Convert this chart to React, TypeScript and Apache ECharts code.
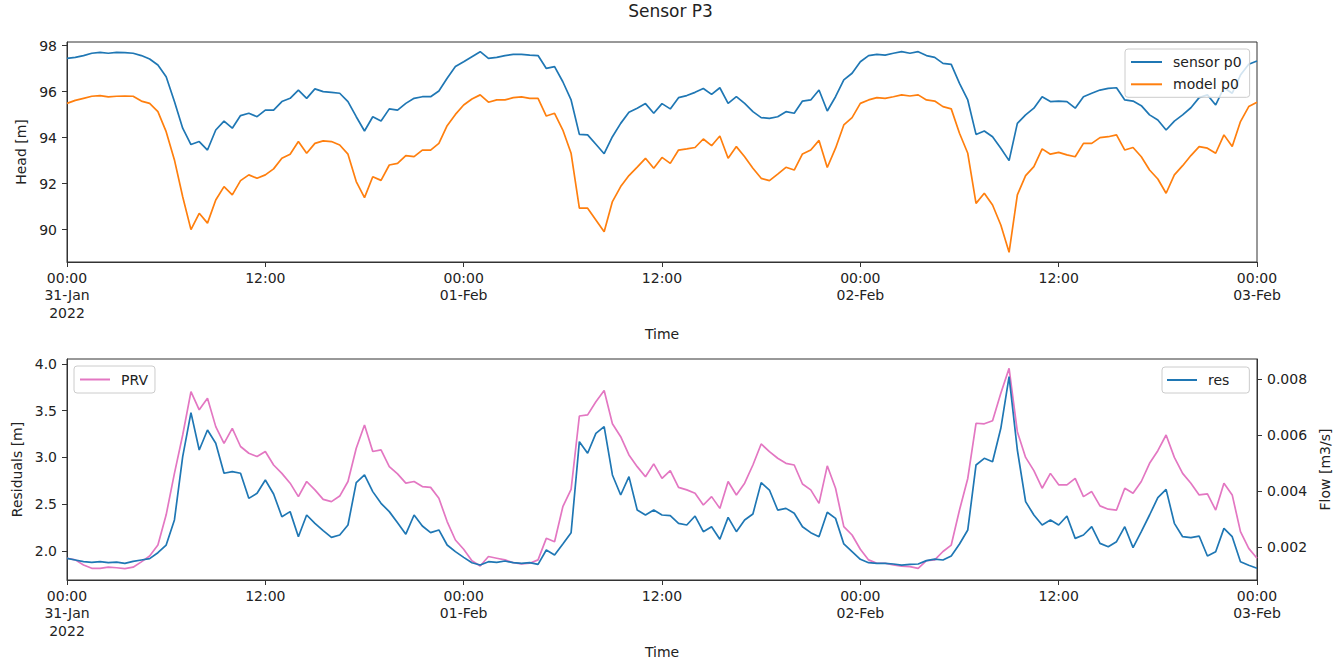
import { useEffect, useRef } from "react";
import * as echarts from "echarts";

// Half-hourly samples from 31-Jan-2022 00:00 to 03-Feb-2022 00:00 (UTC)
const START = Date.UTC(2022, 0, 31);
const STEP = 30 * 60 * 1000;
const HALF_DAY = 12 * 3600 * 1000;
const END = START + 6 * HALF_DAY;

// Pressure head at P3 [m]
const sensorP0 = [
  97.45, 97.49, 97.57, 97.67, 97.71, 97.67, 97.71, 97.70, 97.67, 97.57,
  97.42, 97.16, 96.65, 95.57, 94.41, 93.70, 93.83, 93.46, 94.33, 94.72,
  94.41, 94.96, 95.06, 94.91, 95.20, 95.20, 95.57, 95.71, 96.07, 95.71,
  96.12, 96.00, 95.97, 95.93, 95.57, 94.91, 94.29, 94.91, 94.72, 95.25,
  95.20, 95.49, 95.71, 95.78, 95.78, 96.03, 96.58, 97.09, 97.30, 97.52,
  97.74, 97.45, 97.49, 97.57, 97.62, 97.62, 97.59, 97.57, 97.01, 97.09,
  96.43, 95.64, 94.14, 94.12, 93.71, 93.30, 94.04, 94.62, 95.10, 95.28,
  95.48, 95.06, 95.48, 95.25, 95.74, 95.83, 95.97, 96.14, 95.88, 96.17,
  95.49, 95.78, 95.49, 95.13, 94.87, 94.84, 94.91, 95.13, 95.06, 95.59,
  95.64, 96.07, 95.16, 95.78, 96.51, 96.80, 97.30, 97.57, 97.62, 97.59,
  97.67, 97.74, 97.67, 97.74, 97.57, 97.49, 97.23, 97.19, 96.36, 95.64,
  94.14, 94.29, 94.04, 93.54, 93.00, 94.62, 94.99, 95.28, 95.78, 95.57,
  95.59, 95.57, 95.28, 95.78, 95.93, 96.07, 96.14, 96.17, 95.64, 95.59,
  95.39, 94.99, 94.77, 94.33, 94.72, 94.99, 95.30, 95.74, 95.86, 95.42,
  96.17, 95.93, 96.72, 97.19, 97.33,
];

const modelP0 = [
  95.49, 95.62, 95.71, 95.80, 95.83, 95.77, 95.80, 95.81, 95.80, 95.59,
  95.49, 95.13, 94.26, 93.03, 91.43, 90.00, 90.71, 90.28, 91.29, 91.87,
  91.51, 92.13, 92.38, 92.23, 92.38, 92.64, 93.10, 93.28, 93.83, 93.32,
  93.75, 93.86, 93.83, 93.68, 93.28, 92.09, 91.39, 92.30, 92.14, 92.81,
  92.88, 93.22, 93.17, 93.46, 93.46, 93.75, 94.52, 95.01, 95.42, 95.68,
  95.86, 95.54, 95.64, 95.64, 95.74, 95.77, 95.71, 95.71, 94.94, 95.06,
  94.33, 93.32, 90.93, 90.93, 90.42, 89.91, 91.22, 91.87, 92.35, 92.72,
  93.10, 92.67, 93.14, 92.88, 93.46, 93.51, 93.57, 93.94, 93.65, 94.07,
  93.10, 93.61, 93.17, 92.67, 92.23, 92.13, 92.41, 92.71, 92.59, 93.29,
  93.46, 93.88, 92.70, 93.54, 94.55, 94.87, 95.49, 95.64, 95.74, 95.71,
  95.78, 95.86, 95.81, 95.86, 95.64, 95.59, 95.35, 95.25, 94.19, 93.32,
  91.14, 91.58, 91.07, 90.20, 89.01, 91.51, 92.35, 92.74, 93.51, 93.28,
  93.36, 93.25, 93.17, 93.75, 93.75, 94.00, 94.04, 94.12, 93.46, 93.57,
  93.17, 92.59, 92.20, 91.58, 92.38, 92.78, 93.22, 93.61, 93.54, 93.32,
  94.12, 93.61, 94.70, 95.35, 95.54,
];

// Residuals [m]
const residuals = [
  1.922, 1.904, 1.886, 1.879, 1.886, 1.875, 1.882, 1.868, 1.889, 1.904,
  1.918, 1.982, 2.064, 2.332, 3.009, 3.479, 3.080, 3.294, 3.152, 2.831,
  2.849, 2.831, 2.563, 2.617, 2.759, 2.610, 2.367, 2.421, 2.153, 2.385,
  2.296, 2.218, 2.146, 2.171, 2.278, 2.731, 2.813, 2.635, 2.510, 2.421,
  2.303, 2.180, 2.385, 2.267, 2.196, 2.225, 2.064, 1.993, 1.932, 1.875,
  1.850, 1.886, 1.879, 1.893, 1.875, 1.868, 1.875, 1.857, 2.011, 1.957,
  2.075, 2.196, 3.169, 3.045, 3.258, 3.330, 2.813, 2.599, 2.795, 2.438,
  2.385, 2.438, 2.385, 2.378, 2.296, 2.278, 2.374, 2.207, 2.260, 2.125,
  2.360, 2.207, 2.332, 2.396, 2.731, 2.652, 2.438, 2.456, 2.403, 2.260,
  2.196, 2.153, 2.414, 2.349, 2.075, 1.993, 1.911, 1.875, 1.868, 1.868,
  1.861, 1.850, 1.857, 1.861, 1.897, 1.914, 1.904, 1.947, 2.075, 2.225,
  2.920, 2.991, 2.955, 3.312, 3.865, 3.080, 2.528, 2.385, 2.278, 2.332,
  2.278, 2.374, 2.135, 2.171, 2.260, 2.082, 2.046, 2.100, 2.260, 2.036,
  2.207, 2.385, 2.570, 2.659, 2.296, 2.153, 2.143, 2.160, 1.947, 1.993,
  2.242, 2.153, 1.886, 1.847, 1.815,
];

// Flow through the PRV [m3/s]
const prvFlow = [
  0.00161, 0.00155, 0.00137, 0.00125, 0.00125, 0.00129, 0.00127, 0.00124, 0.00129, 0.00148,
  0.00169, 0.00208, 0.00316, 0.00464, 0.00601, 0.00756, 0.00691, 0.00732, 0.00631, 0.00571,
  0.00625, 0.0056, 0.00536, 0.00524, 0.00542, 0.00494, 0.00464, 0.00429, 0.00381, 0.00435,
  0.00405, 0.00371, 0.00363, 0.00383, 0.00435, 0.00554, 0.00637, 0.00542, 0.00548, 0.00488,
  0.00462, 0.00429, 0.00435, 0.00417, 0.00414, 0.00375, 0.00292, 0.00226, 0.00193, 0.00152,
  0.00133, 0.00167, 0.00161, 0.00155, 0.00145, 0.00141, 0.00143, 0.00155, 0.00232, 0.0022,
  0.00345, 0.00407, 0.00669, 0.00673, 0.0072, 0.0076, 0.00641, 0.00595, 0.0053, 0.00488,
  0.00452, 0.00498, 0.00446, 0.00474, 0.00414, 0.00405, 0.00393, 0.00351, 0.00381, 0.00339,
  0.00435, 0.00387, 0.00429, 0.00494, 0.00569, 0.00542, 0.00518, 0.005, 0.00494, 0.00426,
  0.00405, 0.00357, 0.00491, 0.00411, 0.00274, 0.00244, 0.00193, 0.00155, 0.00143, 0.00143,
  0.00137, 0.00133, 0.00131, 0.00125, 0.00152, 0.00155, 0.00185, 0.00208, 0.00333, 0.00446,
  0.00643, 0.00641, 0.00652, 0.0075, 0.00839, 0.00613, 0.00521, 0.00474, 0.00411, 0.00464,
  0.00423, 0.00423, 0.00446, 0.00381, 0.00399, 0.00348, 0.00336, 0.00333, 0.00411, 0.00393,
  0.00435, 0.005, 0.00545, 0.00601, 0.00521, 0.00464, 0.00429, 0.00387, 0.00391, 0.00333,
  0.00429, 0.00387, 0.00256, 0.00196, 0.00161,
];

const times = sensorP0.map((_, i) => START + i * STEP);
const timeTicks = [0, 1, 2, 3, 4, 5, 6].map((k) => START + k * HALF_DAY);
const headTicks = [90, 92, 94, 96, 98];
const resTicks = [2.0, 2.5, 3.0, 3.5, 4.0];
const flowTicks = [0.002, 0.004, 0.006, 0.008];
const MONTHS = ["Jan", "Feb", "Mar", "Apr", "May", "Jun", "Jul", "Aug", "Sep", "Oct", "Nov", "Dec"];

const FONT = "DejaVu Sans";
const TEXT = "#222222";
const FRAME = "#333333";
const BLUE = "#1f77b4";
const ORANGE = "#ff7f0e";
const PINK = "#e377c2";

function formatTime(v: number): string {
  const d = new Date(v);
  const hh = String(d.getUTCHours()).padStart(2, "0");
  const clock = `${hh}:${String(d.getUTCMinutes()).padStart(2, "0")}`;
  if (d.getUTCHours() !== 0) return clock;
  const day = `${String(d.getUTCDate()).padStart(2, "0")}-${MONTHS[d.getUTCMonth()]}`;
  if (v === START) return `${clock}\n${day}\n${d.getUTCFullYear()}`;
  return `${clock}\n${day}`;
}

const pairs = (vals: number[]) => vals.map((v, i) => [times[i], v]);

function xAxis(gridIndex: number) {
  return {
    type: "value",
    gridIndex,
    min: START,
    max: END,
    axisLine: { show: true, lineStyle: { color: FRAME, width: 1 } },
    axisTick: { show: true, length: 5, customValues: timeTicks, lineStyle: { color: FRAME } },
    axisLabel: {
      customValues: timeTicks,
      formatter: formatTime,
      margin: 7,
      fontSize: 14,
      lineHeight: 17.5,
      color: TEXT,
      fontFamily: FONT,
    },
    splitLine: { show: false },
    name: "Time",
    nameLocation: "middle",
    nameGap: 65,
    nameTextStyle: { fontSize: 14, color: TEXT, fontFamily: FONT },
  };
}

function yAxis(
  gridIndex: number,
  position: "left" | "right",
  name: string,
  min: number,
  max: number,
  ticks: number[],
  fmt: (v: number) => string,
  nameGap: number,
) {
  return {
    type: "value",
    gridIndex,
    position,
    min,
    max,
    axisLine: { show: true, lineStyle: { color: FRAME, width: 1 } },
    axisTick: { show: true, length: 5, customValues: ticks, lineStyle: { color: FRAME } },
    axisLabel: {
      customValues: ticks,
      formatter: fmt,
      margin: 10,
      fontSize: 14,
      color: TEXT,
      fontFamily: FONT,
    },
    splitLine: { show: false },
    name,
    nameLocation: "middle",
    nameRotate: 90,
    nameGap,
    nameTextStyle: { fontSize: 14, color: TEXT, fontFamily: FONT },
  };
}

function legend(names: string[], left: number, top: number, padding: number[], itemWidth: number) {
  return {
    data: names,
    orient: "vertical",
    left,
    top,
    padding,
    itemGap: 6.3,
    itemWidth,
    itemHeight: 2,
    icon: "rect",
    backgroundColor: "rgba(255,255,255,0.8)",
    borderColor: "#cccccc",
    borderWidth: 1,
    borderRadius: 3,
    selectedMode: false,
    formatter: (n: string) => `{g|}${n}`,
    textStyle: {
      fontSize: 14,
      lineHeight: 16,
      color: TEXT,
      fontFamily: FONT,
      rich: { g: { width: 6 } },
    },
  };
}

function line(name: string, color: string, x: number, y: number, vals: number[]) {
  return {
    name,
    type: "line",
    xAxisIndex: x,
    yAxisIndex: y,
    data: pairs(vals),
    symbol: "none",
    showSymbol: false,
    lineStyle: { color, width: 1.7 },
    itemStyle: { color },
  };
}

export default function App() {
  const ref = useRef<HTMLDivElement>(null);

  useEffect(() => {
    if (!ref.current) return;
    const chart = echarts.init(ref.current, undefined, { renderer: "svg" });
    chart.setOption({
      animation: false,
      backgroundColor: "#ffffff",
      title: {
        text: "Sensor P3",
        left: "center",
        top: -3,
        textStyle: { fontSize: 17, fontWeight: "normal", color: TEXT, fontFamily: FONT, lineHeight: 18 },
      },
      grid: [
        { left: 67, top: 42, width: 1190, height: 220, show: true, borderColor: FRAME, borderWidth: 1, backgroundColor: "transparent" },
        { left: 67, top: 359, width: 1190, height: 221, show: true, borderColor: FRAME, borderWidth: 1, backgroundColor: "transparent" },
      ],
      xAxis: [xAxis(0), xAxis(1)],
      yAxis: [
        yAxis(0, "left", "Head [m]", 88.59, 98.16, headTicks, (v) => String(v), 37),
        yAxis(1, "left", "Residuals [m]", 1.69, 4.053, resTicks, (v) => v.toFixed(1), 40),
        yAxis(1, "right", "Flow [m3/s]", 0.000832, 0.008725, flowTicks, (v) => v.toFixed(3), 53),
      ],
      legend: [
        legend(["sensor p0", "model p0"], 1125, 49, [5, 8, 5, 6], 31),
        legend(["PRV"], 74, 366, [5.5, 7, 5.5, 6], 30),
        legend(["res"], 1162, 367, [5, 20, 5, 5], 30),
      ],
      series: [
        line("sensor p0", BLUE, 0, 0, sensorP0),
        line("model p0", ORANGE, 0, 0, modelP0),
        line("PRV", PINK, 1, 2, prvFlow),
        line("res", BLUE, 1, 1, residuals),
      ],
    });
    return () => chart.dispose();
  }, []);

  return (
    <div
      ref={ref}
      style={{ position: "absolute", left: 0, top: 0, width: 1341, height: 664, background: "#ffffff" }}
    />
  );
}
